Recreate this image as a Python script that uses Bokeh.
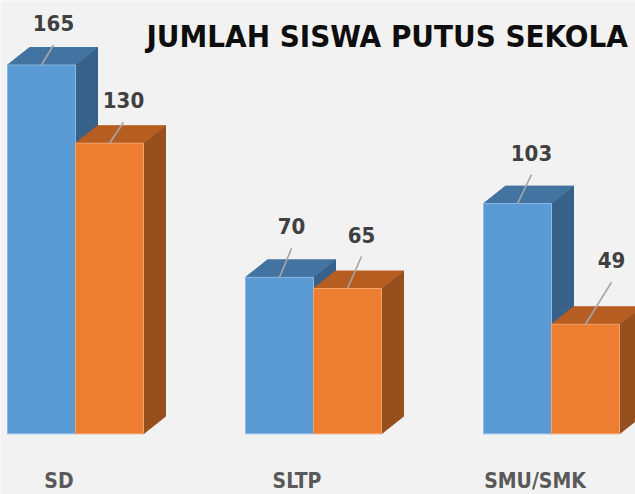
from bokeh.plotting import figure
from bokeh.models import Range1d, ColumnDataSource, Label
from bokeh.core.properties import value
from bokeh.embed import file_html
from bokeh.resources import INLINE

# ---------------- data ----------------
categories = ["SD", "SLTP", "SMU/SMK"]
series_blue = [165, 70, 103]
series_orange = [130, 65, 49]
title_text = "JUMLAH SISWA PUTUS SEKOLA"

# ---------------- layout ----------------
W, H = 635, 494
PX_PER_GROUP = 238.0      # horizontal pixels per category step
PX_PER_UNIT = 2.235       # vertical pixels per value unit
X0_PX = 75.0              # pixel position of first group centre
BASE_PX = 433.3           # pixel row of the baseline (from top)
BAR_W = 68 / PX_PER_GROUP
DEPTH_X = 22 / PX_PER_GROUP
DEPTH_Y = 17.5 / PX_PER_UNIT
LABEL_GAP = 22 / PX_PER_UNIT
CAT_SHIFT = -16.5 / PX_PER_GROUP
CAT_Y = -(480 - BASE_PX) / PX_PER_UNIT
# leader line (dx px, dy px) per bar, blue then orange
leader_blue = [(12, 20), (12, 29), (14, 29)]
leader_orange = [(14, 21), (14, 32), (26, 42)]

FONT_NAME = "DejaVu Sans Condensed"
FONT = value(FONT_NAME)

x_start = -X0_PX / PX_PER_GROUP
x_end = (W - X0_PX) / PX_PER_GROUP
y_end = BASE_PX / PX_PER_UNIT
y_start = -(H - BASE_PX) / PX_PER_UNIT

p = figure(width=W, height=H, output_backend="svg", toolbar_location=None,
           x_range=Range1d(x_start, x_end), y_range=Range1d(y_start, y_end),
           min_border=0, title=None)
p.axis.visible = False
p.grid.visible = False
p.outline_line_color = None
p.background_fill_color = "#f2f2f2"
p.border_fill_color = "#f2f2f2"


def draw_series(vals, offset, front, top, side, edge):
    x0 = [i + offset for i in range(len(vals))]
    x1 = [x + BAR_W for x in x0]
    side_xs = [[b, b + DEPTH_X, b + DEPTH_X, b] for b in x1]
    side_ys = [[0, DEPTH_Y, v + DEPTH_Y, v] for v in vals]
    top_xs = [[a, b, b + DEPTH_X, a + DEPTH_X] for a, b in zip(x0, x1)]
    top_ys = [[v, v, v + DEPTH_Y, v + DEPTH_Y] for v in vals]
    p.patches(side_xs, side_ys, fill_color=side, line_color=side)
    p.patches(top_xs, top_ys, fill_color=top, line_color=top)
    p.quad(left=x0, right=x1, bottom=0, top=vals, fill_color=front,
           line_color=edge, line_width=1)
    return x0, x1


def draw_labels(vals, x0, x1, leaders):
    cx = [(a + b) / 2 for a, b in zip(x0, x1)]
    lx = [c + d[0] / PX_PER_GROUP for c, d in zip(cx, leaders)]
    ly = [v + d[1] / PX_PER_UNIT for v, d in zip(vals, leaders)]
    p.segment(x0=cx, y0=vals, x1=lx, y1=ly, line_color="#a6a6a6", line_width=1.6)
    src = ColumnDataSource(dict(x=lx, y=[y + LABEL_GAP for y in ly],
                                t=[str(v) for v in vals]))
    p.text(x="x", y="y", text="t", source=src, text_font=FONT,
           text_font_style="bold", text_font_size="22px", text_color="#404040",
           text_align="center", text_baseline="middle")


bx0, bx1 = draw_series(series_blue, -BAR_W, "#5b9bd5", "#4373a0", "#386189", "#8db9e3")
ox0, ox1 = draw_series(series_orange, 0.0, "#ed7d31", "#b65d22", "#974f1e", "#f3a36c")
draw_labels(series_blue, bx0, bx1, leader_blue)
draw_labels(series_orange, ox0, ox1, leader_orange)

cat_src = ColumnDataSource(dict(x=[i + CAT_SHIFT for i in range(len(categories))],
                                y=[CAT_Y] * len(categories), t=categories))
p.text(x="x", y="y", text="t", source=cat_src, text_font=FONT,
       text_font_style="bold", text_font_size="21px", text_color="#595959",
       text_align="center", text_baseline="middle")

p.add_layout(Label(x=146, y=H - 35, x_units="screen", y_units="screen",
                   text=title_text, text_font=FONT_NAME,
                   text_font_style="bold", text_font_size="31px",
                   text_color="#0d0d0d", text_baseline="alphabetic"))

open("out.html", "w").write(file_html(p, INLINE))
